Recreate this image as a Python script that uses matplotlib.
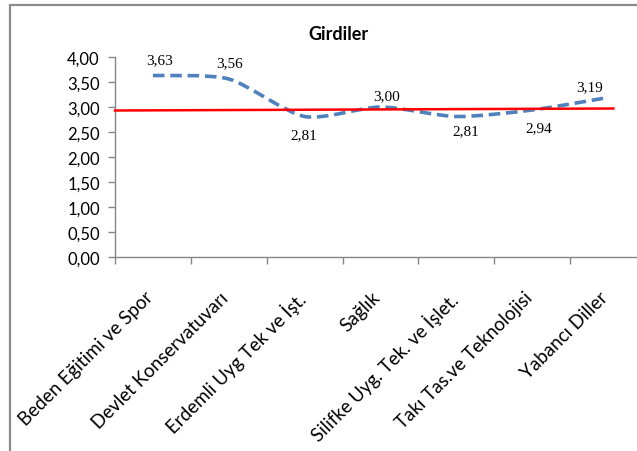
import numpy as np
import matplotlib
matplotlib.use("Agg")
import matplotlib.pyplot as plt
from matplotlib.path import Path
from matplotlib.patches import PathPatch, Rectangle
from matplotlib.ticker import FuncFormatter, FixedLocator
from matplotlib.transforms import ScaledTranslation

# Data
categories = ['Beden Eğitimi ve Spor', 'Devlet Konservatuvarı', 'Erdemli Uyg Tek ve İşt.',
              'Sağlık', 'Silifke Uyg. Tek. ve İşlet.', 'Takı Tas.ve Teknolojisi', 'Yabancı Diller']
values = [3.63, 3.56, 2.81, 3.00, 2.81, 2.94, 3.19]
ref_line_x = [-0.5, 6.07]
ref_line_y = [2.93, 2.97]

# label offsets in pixels (dx, dy)
label_offsets = [(7, 16), (1, 16), (-1, -18), (6, 11), (9, -14), (7, -18), (-19, 11)]

fig = plt.figure(figsize=(6.37, 4.52), dpi=100)
ax = fig.add_axes([115 / 637, 194 / 452, 531 / 637, 200 / 452])

x = np.arange(len(values))
y = np.array(values)

# smoothed line (Excel-style bezier through the points)
verts = [(x[0], y[0])]
codes = [Path.MOVETO]
n = len(x)
k = 1 / 8
for i in range(n - 1):
    p0 = np.array([x[max(i - 1, 0)], y[max(i - 1, 0)]])
    p1 = np.array([x[i], y[i]])
    p2 = np.array([x[i + 1], y[i + 1]])
    p3 = np.array([x[min(i + 2, n - 1)], y[min(i + 2, n - 1)]])
    c1 = p1 + (p2 - p0) * k
    c2 = p2 - (p3 - p1) * k
    verts += [tuple(c1), tuple(c2), tuple(p2)]
    codes += [Path.CURVE4] * 3
patch = PathPatch(Path(verts, codes), facecolor='none', edgecolor='#4F81BD',
                  lw=2.6, linestyle=(0, (3.2, 1.6)), capstyle='butt', zorder=3)
ax.add_patch(patch)

# red reference line
ax.plot(ref_line_x, ref_line_y, color='#FF0000', lw=1.8, zorder=4, clip_on=False)

for xi, yi, (dx, dy) in zip(x, y, label_offsets):
    ax.annotate(f"{yi:.2f}".replace('.', ','), (xi, yi), xytext=(dx, dy),
                textcoords='offset pixels', ha='center', va='center',
                fontsize=11, family='Liberation Serif', color='#000000')

ax.set_xlim(-0.5, 6.5)
ax.set_ylim(0, 4)
ax.yaxis.set_major_locator(FixedLocator(np.arange(0, 4.01, 0.5)))
ax.yaxis.set_major_formatter(FuncFormatter(lambda v, p: f"{v:.2f}".replace('.', ',')))

ax.set_xticks(x)
ax.set_xticklabels(categories, rotation=45, ha='right', rotation_mode='anchor',
                   fontsize=13.5, family='Lato')
ax.set_xticks(np.arange(-0.5, 7, 1), minor=True)
ax.tick_params(axis='x', which='major', length=0, pad=16)
ax.tick_params(axis='x', which='minor', length=5, color='#868686', width=1)
ax.tick_params(axis='y', length=5, color='#868686', width=1, labelsize=12, pad=6)
for lab in ax.get_yticklabels():
    lab.set_family('Lato')
shift = ScaledTranslation(-9 / 100, -9 / 100, fig.dpi_scale_trans)
for lab in ax.get_xticklabels():
    lab.set_transform(lab.get_transform() + shift)

for s in ['top', 'right']:
    ax.spines[s].set_visible(False)
for s in ['left', 'bottom']:
    ax.spines[s].set_color('#868686')
    ax.spines[s].set_linewidth(1)

fig.text(338 / 637, 1 - 34 / 452, 'Girdiler', ha='center', va='center',
         fontsize=13, fontweight='bold', family='Lato')

# chart frame
fig.add_artist(Rectangle((9.5 / 637, -0.1), 1.2, 1 - 5.5 / 452 + 0.1,
                         transform=fig.transFigure, fill=False,
                         edgecolor='#8C8C8C', lw=1.6))

fig.savefig('out.png', dpi=100)
